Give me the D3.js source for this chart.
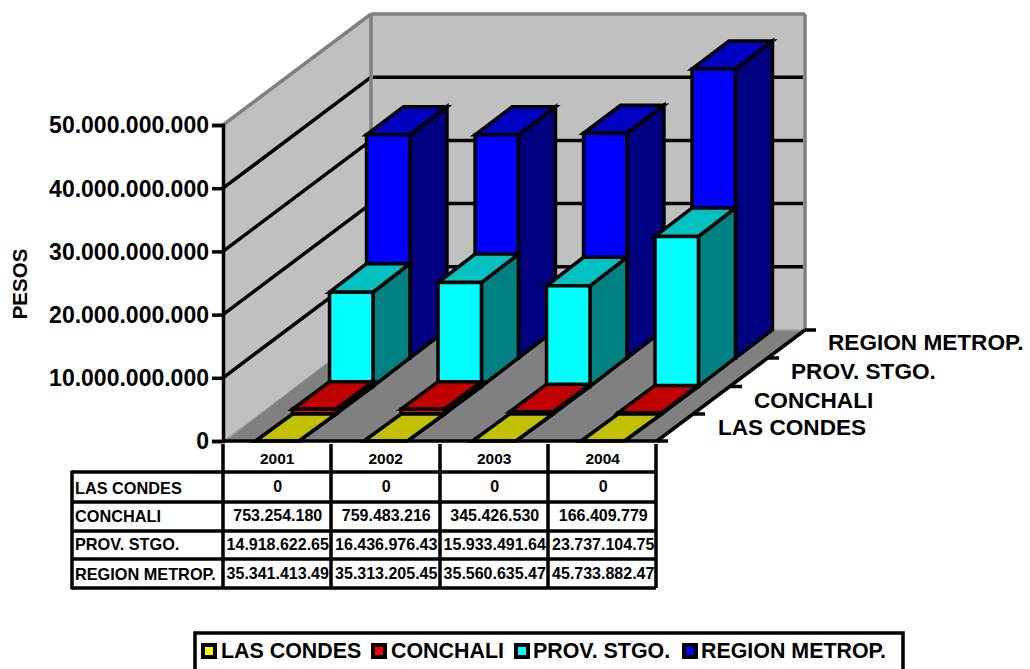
<!DOCTYPE html>
<html><head><meta charset="utf-8">
<script src="https://cdn.jsdelivr.net/npm/d3@7/dist/d3.min.js"></script>
<style>html,body{margin:0;padding:0;background:#fff;overflow:hidden}svg{display:block}text{font-family:"Liberation Sans",Arial,sans-serif;font-weight:bold;fill:#000}</style>
</head><body><svg id="c" width="1030" height="669"></svg>
<script>
const years=["2001","2002","2003","2004"];
const seriesNames=["LAS CONDES","CONCHALI","PROV. STGO.","REGION METROP."];
const lasCondes=[0,0,0,0];
const conchali=[753254180,759483216,345426530,166409779];
const provStgo=[14918622650,16436976430,15933491640,23737104750];
const regionMetrop=[35341413490,35313205450,35560635470,45733882470];
const tableLasCondes=["0","0","0","0"];
const tableConchali=["753.254.180","759.483.216","345.426.530","166.409.779"];
const tableProv=["14.918.622.65","16.436.976.43","15.933.491.64","23.737.104.75"];
const tableRegion=["35.341.413.49","35.313.205.45","35.560.635.47","45.733.882.47"];
const yTicks=[0,1e10,2e10,3e10,4e10,5e10];
const seriesValues=[lasCondes,conchali,provStgo,regionMetrop];
const tableRows=[tableLasCondes,tableConchali,tableProv,tableRegion];
const colors=[
 {front:"#ffff00",top:"#c0c000",side:"#808000"},
 {front:"#ff0000",top:"#c00000",side:"#800000"},
 {front:"#00ffff",top:"#00c0c0",side:"#008080"},
 {front:"#0000ff",top:"#0000c0",side:"#000080"}];

const svg=d3.select("#c");
const SW=3.5;
const y=d3.scaleLinear().domain([0,5e10]).range([441,125]);
const x=d3.scaleBand().domain(years).range([223,657]).paddingInner(0.6).paddingOuter(0.3);
const band=d3.scaleBand().domain(years).range([223,657]);
const dx=d3.scaleLinear().domain([0,4]).range([0,148]);
const dy=d3.scaleLinear().domain([0,1,2,3,4]).range([0,-27,-54.5,-83,-111]);
const line=d3.line();
const poly=(pts,fill,stroke,sw)=>svg.append("path").attr("d",line(pts)+"Z").attr("fill",fill)
  .attr("stroke",stroke||"none").attr("stroke-width",sw||0).attr("stroke-linejoin","miter");
const seg=(a,b,col,sw)=>svg.append("path").attr("d",line([a,b])).attr("stroke",col).attr("stroke-width",sw).attr("fill","none");

const X0=223,X1=657,B=y(0),T=y(5e10),DX=dx(4),DY=dy(4);
// walls and floor
poly([[X0,T],[X0+DX,T+DY],[X0+DX,B+DY],[X0,B]],"#c0c0c0");
poly([[X0+DX,T+DY],[X1+DX,T+DY],[X1+DX,B+DY],[X0+DX,B+DY]],"#c0c0c0");
poly([[X0,B],[X0+DX,B+DY],[X1+DX,B+DY],[X1,B]],"#808080");
seg([X0+DX,B+DY],[X1+DX,B+DY],"#a0a0a0",1.5);
seg([X0+3,B-1],[X0+DX,B+DY-1],"#a8a8a8",1);
// gridlines
yTicks.slice(1,-1).forEach(t=>{
  seg([X0,y(t)],[X0+DX,y(t)+DY],"#000",SW);
  seg([X0+DX+2,y(t)+DY],[X1+DX-2,y(t)+DY],"#000",SW);
});
seg([X0,T],[X0+DX,T+DY],"#808080",3.5);
seg([X0+DX,T+DY],[X1+DX,T+DY],"#808080",3.5);
seg([X0+DX,T+DY],[X0+DX,B+DY],"#808080",3.5);
seg([X1+DX,T+DY],[X1+DX,B+DY],"#808080",3.5);

// bars, back to front
[3,2,1,0].forEach(s=>{
  years.forEach((yr,i)=>{
    const v=seriesValues[s][i],c=colors[s];
    const xl=x(yr)+dx(s),xr=xl+x.bandwidth();
    const yb=y(0)+dy(s),h=y(0)-y(v),yt=yb-h;
    const ddx=dx(1),ddy=dy(s+1)-dy(s);
    poly([[xr,yt],[xr+ddx,yt+ddy],[xr+ddx,yb+ddy],[xr,yb]],c.side,"#000",SW);
    poly([[xl,yt],[xl+ddx,yt+ddy],[xr+ddx,yt+ddy],[xr,yt]],c.top,"#000",SW);
    if(h>0) poly([[xl,yt],[xr,yt],[xr,yb],[xl,yb]],c.front,"#000",SW);
  });
});

// floor right edge and depth ticks
seg([X1,B],[X1+DX,B+DY],"#000",SW);
d3.range(0,5).forEach(k=>seg([X1+dx(k),B+dy(k)],[X1+dx(k)+11,B+dy(k)],"#000",SW));

// y axis
const fmt=d3.formatLocale({decimal:",",thousands:".",grouping:[3],currency:["",""]}).format(",d");
const ax=svg.append("g").attr("transform",`translate(${X0},0)`)
  .call(d3.axisLeft(y).tickValues(yTicks).tickFormat(fmt).tickSize(11).tickPadding(3));
ax.selectAll("path,line").attr("stroke","#000").attr("stroke-width",SW);
ax.selectAll("text").attr("font-size",23).attr("dy","0.34em");
seg([X0,B],[X1,B],"#000",SW);

// PESOS
svg.append("text").attr("transform","translate(27,284) rotate(-90)").attr("text-anchor","middle")
  .attr("font-size",20.5).text("PESOS");

// data table
const colX=[223,331,440,548,656];
const rowY=[472,502,531,559,588];
const tl=(a,b)=>seg(a,b,"#000",SW);
colX.forEach(cx=>tl([cx,444],[cx,rowY[4]]));
tl([72,rowY[0]],[656,rowY[0]]);
rowY.slice(1).forEach(ry=>tl([72,ry],[656,ry]));
tl([72,rowY[0]-1.5],[72,rowY[4]+1.5]);
const cell=(t,xx,yy,anchor,fs)=>svg.append("text").attr("x",xx).attr("y",yy).attr("text-anchor",anchor).attr("font-size",fs).text(t);
years.forEach((yr,i)=>cell(yr,band(yr)+band.bandwidth()/2,464,"middle",15.5));
const rowBase=[492,521,550,579];
const labelBase=[494,522,550,580];
seriesNames.forEach((n,r)=>{
  cell(n,75,labelBase[r],"start",16.3);
  tableRows[r].forEach((t,i)=>cell(t,band(years[i])+band.bandwidth()/2+0.5,rowBase[r],"middle",16));
});

// depth labels
const depthX=[718,754,791,828],depthY=[435,408,379,350];
seriesNames.forEach((n,i)=>cell(n,depthX[i],depthY[i],"start",22.6));

// legend
svg.append("rect").attr("x",195).attr("y",633).attr("width",708).attr("height",50).attr("fill","#fff").attr("stroke","#000").attr("stroke-width",3.5);
const legX=[203,373,516,684],legT=[221,391,533,701];
seriesNames.forEach((n,i)=>{
  svg.append("rect").attr("x",legX[i]).attr("y",645).attr("width",12).attr("height",12).attr("fill",colors[i].front).attr("stroke","#000").attr("stroke-width",4);
  cell(n,legT[i],658,"start",21.4);
});
</script></body></html>
